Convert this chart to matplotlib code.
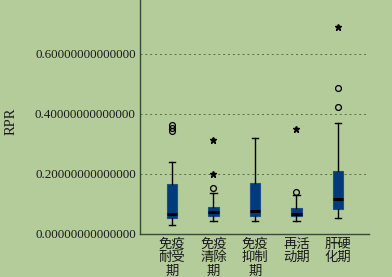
import matplotlib
matplotlib.use("Agg")
import matplotlib.pyplot as plt

categories = ["免疫\n耐受\n期", "免疫\n清除\n期", "免疫\n抑制\n期", "再活\n动期", "肝硬\n化期"]
whisker_low = [0.031, 0.043, 0.042, 0.042, 0.053]
q1 = [0.052, 0.060, 0.060, 0.060, 0.083]
median = [0.068, 0.073, 0.076, 0.066, 0.118]
q3 = [0.166, 0.091, 0.171, 0.087, 0.210]
whisker_high = [0.241, 0.136, 0.319, 0.129, 0.370]
circle_outliers = [[0.365, 0.355, 0.345], [0.153], [], [0.141], [0.488, 0.423]]
star_outliers = [[], [0.313, 0.200], [], [0.349], [0.689]]
yticks = [0.0, 0.2, 0.4, 0.6]

bg = "#B3CC9A"
boxcol = "#023B7C"

fig = plt.figure(figsize=(3.92, 2.77), dpi=100, facecolor=bg)
ax = fig.add_axes([140/392, 1 - 234/277, (369 - 140)/392, 234/277])
ax.set_facecolor(bg)

stats = []
for i in range(len(categories)):
    stats.append(dict(whislo=whisker_low[i], q1=q1[i], med=median[i], q3=q3[i],
                      whishi=whisker_high[i], fliers=[]))
pos = list(range(1, len(categories) + 1))
ax.bxp(stats, positions=pos, widths=0.25, showfliers=False, patch_artist=True,
       boxprops=dict(facecolor=boxcol, edgecolor="#1d4f8a", linewidth=0.8),
       medianprops=dict(color="black", linewidth=2.2),
       whiskerprops=dict(color="black", linewidth=1.0),
       capprops=dict(color="black", linewidth=1.0), capwidths=0.15, zorder=3)

for i, p in enumerate(pos):
    if circle_outliers[i]:
        ax.plot([p] * len(circle_outliers[i]), circle_outliers[i], linestyle="none",
                marker="o", markersize=4.2, markerfacecolor="none",
                markeredgecolor="black", markeredgewidth=0.9, zorder=4)
    if star_outliers[i]:
        ax.plot([p] * len(star_outliers[i]), star_outliers[i], linestyle="none",
                marker="*", markersize=4.6, color="black", zorder=4)

ax.set_xlim(0.23, 5.75)
ax.set_ylim(0, 0.78)
ax.set_yticks(yticks)
ax.set_yticklabels([f"{v:.14f}" for v in yticks], fontsize=9.4,
                   family="Liberation Serif")
ax.set_xticks(pos)
ax.set_xticklabels(categories, fontsize=9.6, family=["Noto Sans CJK SC", "DejaVu Sans"],
                   linespacing=0.95, va="top")
ax.tick_params(axis="both", length=0, pad=3, colors="#1a1a1a")
ax.tick_params(axis="x", pad=2)
ax.grid(axis="y", linestyle=(0, (2, 3)), color="#55704a", linewidth=0.7, zorder=1)
ax.set_axisbelow(True)
for s in ["top", "right"]:
    ax.spines[s].set_visible(False)
for s in ["left", "bottom"]:
    ax.spines[s].set_color("#3a4a3a")
    ax.spines[s].set_linewidth(1.0)

fig.text(11/392, 1 - 121/277, "RPR", rotation=90, ha="center", va="center",
         fontsize=10.5, family="Liberation Serif", color="#1a1a1a")

fig.savefig("out.png", dpi=100, facecolor=bg)
